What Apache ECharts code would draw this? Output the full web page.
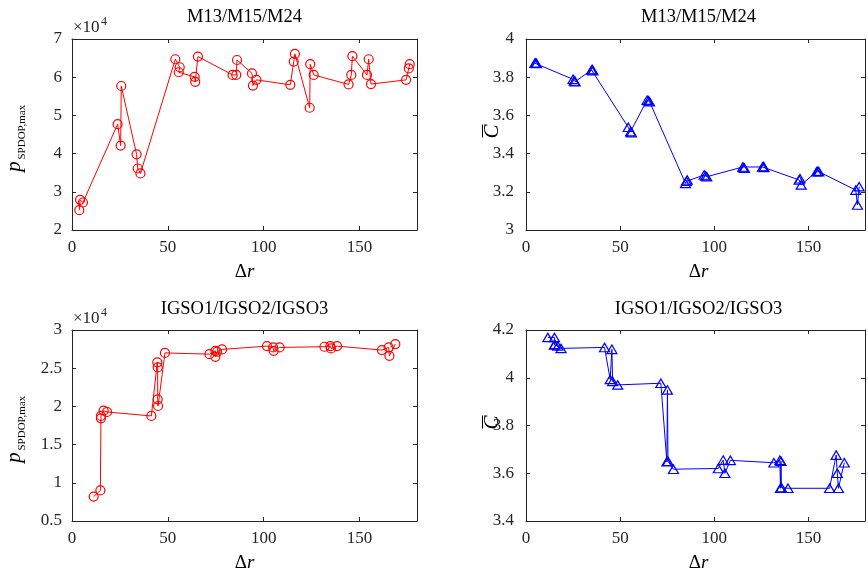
<!DOCTYPE html>
<html><head><meta charset="utf-8">
<script src="https://cdn.jsdelivr.net/npm/echarts@6/dist/echarts.min.js"></script>
<style>html,body{margin:0;padding:0;background:#fff}#c{width:868px;height:573px}</style>
</head><body><div id="c"></div>
<script>
const FONT = "'Liberation Serif','Times New Roman',serif";
const titles = ['M13/M15/M24', 'M13/M15/M24', 'IGSO1/IGSO2/IGSO3', 'IGSO1/IGSO2/IGSO3'];
const xMin = 0, xMax = 180, xInterval = 50;
const yRanges = [[2, 7, 1], [3, 4, 0.2], [0.5, 3, 0.5], [3.4, 4.2, 0.2]];

// top-left: M13/M15/M24, p_SPDOP,max (x10^4)
const tlX = [3.8, 4.2, 5.7, 23.8, 25.4, 25.7, 33.7, 34.3, 35.7, 53.9, 56.2, 55.7, 64.0, 64.3, 65.7, 83.8, 85.7, 86.1, 93.9, 94.4, 96.2, 113.9, 115.7, 116.3, 124.0, 124.3, 126.1, 144.3, 145.7, 146.3, 153.9, 154.8, 156.0, 174.3, 175.7, 176.2];
const tlY = [2.52, 2.79, 2.72, 4.77, 4.21, 5.77, 3.98, 3.61, 3.48, 6.47, 6.26, 6.13, 6.01, 5.88, 6.54, 6.06, 6.06, 6.45, 6.10, 5.78, 5.93, 5.80, 6.41, 6.61, 5.20, 6.34, 6.06, 5.81, 6.06, 6.55, 6.06, 6.47, 5.82, 5.93, 6.23, 6.34];

// top-right: M13/M15/M24, C-bar
const trX = [4.7, 5.2, 5.6, 25.0, 25.6, 26.1, 34.8, 35.2, 35.5, 54.3, 55.5, 56.0, 64.3, 65.0, 65.6, 84.7, 85.2, 85.6, 94.6, 95.3, 96.0, 115.1, 115.6, 116.0, 125.6, 126.0, 126.4, 145.0, 145.5, 146.1, 154.3, 155.0, 155.5, 175.1, 176.0, 176.9];
const trY = [3.873, 3.875, 3.872, 3.789, 3.780, 3.777, 3.838, 3.840, 3.834, 3.538, 3.515, 3.510, 3.680, 3.677, 3.672, 3.244, 3.255, 3.262, 3.288, 3.283, 3.279, 3.330, 3.326, 3.323, 3.330, 3.332, 3.328, 3.262, 3.268, 3.236, 3.305, 3.308, 3.305, 3.209, 3.131, 3.227];

// bottom-left: IGSO1/IGSO2/IGSO3, p_SPDOP,max (x10^4)
const blX = [11.3, 14.8, 15.1, 15.1, 16.5, 18.3, 41.4, 44.5, 44.7, 44.7, 44.9, 48.5, 71.7, 74.8, 74.8, 75.7, 78.3, 101.7, 104.9, 105.2, 108.3, 131.7, 134.8, 135.1, 138.3, 161.7, 165.2, 165.6, 168.7];
const blY = [0.82, 0.90, 1.844, 1.875, 1.944, 1.927, 1.875, 2.577, 2.51, 2.093, 2.005, 2.70, 2.684, 2.728, 2.649, 2.715, 2.746, 2.789, 2.772, 2.728, 2.772, 2.781, 2.789, 2.759, 2.789, 2.737, 2.772, 2.662, 2.816];

// bottom-right: IGSO1/IGSO2/IGSO3, C-bar
const brX = [11.6, 15.1, 15.1, 15.3, 16.9, 18.6, 41.7, 44.7, 45.6, 46.0, 48.7, 71.6, 74.8, 75.1, 75.4, 78.3, 102.1, 104.7, 105.6, 108.5, 131.6, 134.8, 135.1, 135.4, 135.6, 139.1, 161.2, 164.7, 165.3, 165.9, 169.0];
const brY = [4.169, 4.169, 4.137, 4.140, 4.133, 4.123, 4.127, 3.993, 4.119, 3.985, 3.970, 3.977, 3.648, 3.949, 3.650, 3.617, 3.620, 3.655, 3.600, 3.654, 3.644, 3.654, 3.537, 3.650, 3.540, 3.537, 3.537, 3.676, 3.600, 3.537, 3.644];

const seriesData = [[tlX, tlY], [trX, trY], [blX, blY], [brX, brY]];
const AX = '#262626';

const grids = [
  {left: 72, top: 39, width: 345, height: 191},
  {left: 526, top: 39, width: 345, height: 191},
  {left: 72, top: 330, width: 345, height: 191},
  {left: 526, top: 330, width: 345, height: 191}
];

const xAxis = [], yAxis = [], series = [];
grids.forEach((g, i) => {
  const common = {
    axisLine: {show: true, onZero: false, lineStyle: {color: AX, width: 1}},
    axisTick: {show: true, inside: true, length: 4, lineStyle: {color: AX, width: 1}},
    splitLine: {show: false}
  };
  xAxis.push(Object.assign({}, common, {
    type: 'value', gridIndex: i, position: 'bottom', min: xMin, max: xMax, interval: xInterval,
    axisLabel: {show: true, margin: 9, fontFamily: FONT, fontSize: 17, color: AX,
      formatter: v => (v % xInterval === 0 ? String(v) : '')}
  }));
  xAxis.push(Object.assign({}, common, {
    type: 'value', gridIndex: i, position: 'top', min: xMin, max: xMax, interval: xInterval,
    axisLabel: {show: false}
  }));
  const r = yRanges[i];
  yAxis.push(Object.assign({}, common, {
    type: 'value', gridIndex: i, position: 'left', min: r[0], max: r[1], interval: r[2],
    axisLabel: {show: true, margin: (i % 2 ? 12 : 10), fontFamily: FONT, fontSize: 17, color: AX}
  }));
  yAxis.push(Object.assign({}, common, {
    type: 'value', gridIndex: i, position: 'right', min: r[0], max: r[1], interval: r[2],
    axisLabel: {show: false}
  }));
  const isRed = (i % 2 === 0);
  const col = isRed ? '#ff0000' : '#0000ff';
  const [X, Y] = seriesData[i];
  series.push({
    type: 'line', xAxisIndex: 2 * i, yAxisIndex: 2 * i,
    data: X.map((x, k) => [x, Y[k]]),
    symbol: isRed ? 'circle' : 'triangle',
    symbolSize: isRed ? 9 : [10, 8.5],
    showAllSymbol: true, clip: false, animation: false,
    itemStyle: {color: 'rgba(0,0,0,0)', borderColor: col, borderWidth: 1.2},
    lineStyle: {color: col, width: 1},
    emphasis: {disabled: true}
  });
});

const graphic = [];
function txt(x, y, text, opt) {
  const st = Object.assign({text: text, fontFamily: FONT, fontSize: 17, fill: '#000',
    align: 'center', verticalAlign: 'middle', textAlign: 'center', textVerticalAlign: 'middle'}, opt || {});
  return {type: 'text', x: x, y: y, style: st, silent: true};
}
grids.forEach((g, i) => {
  const cx = g.left + g.width / 2;
  const titleY = i < 2 ? 17 : 309;
  graphic.push(txt(cx, titleY, titles[i], {fontSize: 18.5}));
  // x-axis name: Δr
  const nameY = i < 2 ? 272 : 563;
  graphic.push({type: 'text', x: cx, y: nameY, silent: true, style: {
    text: '{a|Δ}{b|r}', align: 'center', verticalAlign: 'middle', textAlign: 'center', textVerticalAlign: 'middle',
    rich: {a: {fontFamily: FONT, fontSize: 19, fill: '#000'}, b: {fontFamily: FONT, fontSize: 19, fontStyle: 'italic', fill: '#000'}}
  }});
  const ac = g.top + g.height / 2;
  if (i % 2 === 0) {
    // ×10^4
    const my = i < 2 ? 28 : 319;
    graphic.push(txt(73, my, '×10', {fontSize: 17, align: 'left', textAlign: 'left', fill: AX}));
    graphic.push(txt(101, my - 6, '4', {fontSize: 12, align: 'left', textAlign: 'left', fill: AX}));
    // y-axis name p_SPDOP,max
    graphic.push({type: 'text', x: 14, y: ac + 32, rotation: Math.PI / 2, silent: true, style: {
      text: 'p', fontFamily: FONT, fontSize: 21, fontStyle: 'italic', fill: '#000',
      align: 'center', verticalAlign: 'middle', textAlign: 'center', textVerticalAlign: 'middle'}});
    graphic.push({type: 'text', x: 22, y: ac + 25, rotation: Math.PI / 2, silent: true, style: {
      text: 'SPDOP,max', fontFamily: FONT, fontSize: 11, fill: '#000',
      align: 'left', verticalAlign: 'middle', textAlign: 'left', textVerticalAlign: 'middle'}});
  } else {
    // y-axis name C-bar
    graphic.push({type: 'text', x: 492, y: ac - 3, rotation: Math.PI / 2, silent: true, style: {
      text: 'C', fontFamily: FONT, fontSize: 21, fontStyle: 'italic', fill: '#000',
      align: 'center', verticalAlign: 'middle', textAlign: 'center', textVerticalAlign: 'middle'}});
    graphic.push({type: 'line', silent: true, shape: {x1: 482.5, y1: ac - 10, x2: 482.5, y2: ac + 3},
      style: {stroke: '#000', lineWidth: 1}});
  }
});

const chart = echarts.init(document.getElementById('c'), null, {renderer: 'canvas'});
chart.setOption({
  animation: false,
  backgroundColor: '#fff',
  grid: grids.map(g => Object.assign({containLabel: false}, g)),
  xAxis: xAxis, yAxis: yAxis, series: series, graphic: graphic
});
</script></body></html>
